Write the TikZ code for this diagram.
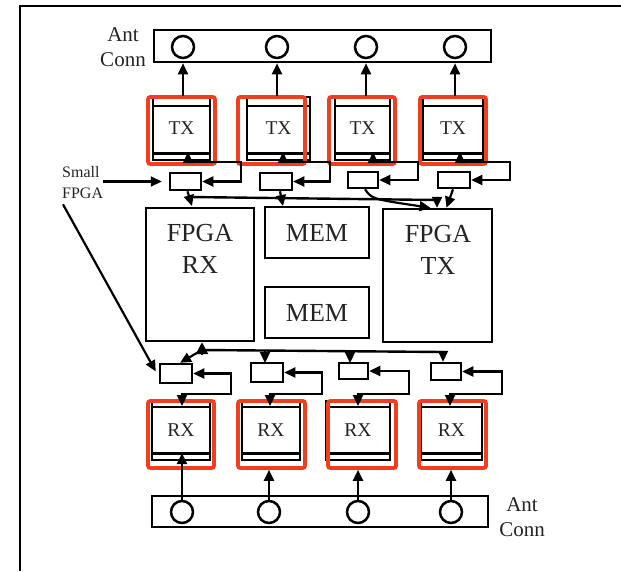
\documentclass[tikz,border=0pt]{standalone}
\usepackage{fontspec}
\setmainfont{Liberation Serif}
\usetikzlibrary{arrows.meta,calc}
\definecolor{modred}{RGB}{242,62,32}
\definecolor{txtgray}{RGB}{35,35,35}
\newcommand\antfont{\fontsize{21}{25}\selectfont}
\newcommand\modfont{\fontsize{19.5}{22}\selectfont}
\newcommand\bigfpgafont{\fontsize{26}{32}\selectfont}
\newcommand\smallfont{\fontsize{16}{21}\selectfont}
\begin{document}
\begin{tikzpicture}[x=1pt,y=-1pt,
  tip/.tip={Triangle[length=11pt,width=10pt]},
  arr/.style={-tip, line width=2.2pt},
  darr/.style={tip-tip, line width=2.2pt},
  bus/.style={line width=2.4pt},
  frame/.style={line width=2.5pt},
  blk/.style={draw, line width=2.2pt, inner sep=0pt, text=txtgray},
  big/.style={draw, line width=2.4pt, inner sep=0pt, text=txtgray},
  innerln/.style={line width=2.8pt},
  redbox/.style={draw=modred, line width=3.6pt, rounded corners=2pt, inner sep=0pt},
  sbox/.style={draw, line width=2.5pt, inner sep=0pt},
  antc/.style={draw, circle, line width=2.5pt, minimum size=22pt, inner sep=0pt},
  lab/.style={text=txtgray, inner sep=0pt, align=center}
]
\useasboundingbox (0,0) rectangle (621,571);
\draw[frame] (621,6) -- (20,6) -- (20,571);

% ---------- top antenna connector ----------
\node[blk, line width=2.6pt, minimum width=337pt, minimum height=32pt] (antT) at (322.5,46) {};
\node[antc] (c1) at (183,47) {};
\node[antc] (c2) at (277,47) {};
\node[antc] (c3) at (366,47) {};
\node[antc] (c4) at (455,47) {};
\node[lab, font=\antfont] (antTl) at (123,47.5) {Ant\\Conn};

% ---------- TX modules ----------
\node[blk, minimum width=57pt, minimum height=63pt, font=\modfont] (tx1) at (181.5,128.5) {TX};
\node[blk, minimum width=63pt, minimum height=63pt, font=\modfont] (tx2) at (278.5,128.5) {TX};
\node[blk, minimum width=55pt, minimum height=63pt, font=\modfont] (tx3) at (362.5,128.5) {TX};
\node[blk, minimum width=60pt, minimum height=63pt, font=\modfont] (tx4) at (453,128.5) {TX};
\foreach \n in {tx1,tx2,tx3,tx4}{
  \draw[innerln] ([yshift=-10pt]\n.north west) -- ([yshift=-10pt]\n.north east);
  \draw[innerln] ([yshift=8pt]\n.south west) -- ([yshift=8pt]\n.south east);
}
\node[redbox, minimum width=67pt, minimum height=67pt] (rt1) at (181.5,130.5) {};
\node[redbox, minimum width=67pt, minimum height=67pt] (rt2) at (271.5,130.5) {};
\node[redbox, minimum width=66pt, minimum height=67pt] (rt3) at (362,130.5) {};
\node[redbox, minimum width=66pt, minimum height=67pt] (rt4) at (453,130.5) {};

\foreach \i in {1,2,3,4}
  \draw[arr] (c\i |- tx\i.north) -- (c\i |- antT.south);

% ---------- small FPGAs (top row) ----------
\node[sbox, minimum width=31pt, minimum height=17pt] (s1) at (185.5,181.5) {};
\node[sbox, minimum width=32pt, minimum height=17pt] (s2) at (276,181.5) {};
\node[sbox, minimum width=30pt, minimum height=16pt] (s3) at (363,180) {};
\node[sbox, minimum width=32pt, minimum height=16pt] (s4) at (454,180) {};

\draw[darr] (s1.east) -- (241,181.5) -- (241,162) -- (188,162) -- (188,152);
\draw[darr] (s2.east) -- (330,181.5) -- (330,162) -- (283,162) -- (283,152);
\draw[darr] (s3.east) -- (418,180) -- (418,162) -- (373,162) -- (373,152);
\draw[darr] (s4.east) -- (510,180) -- (510,162) -- (460,162) -- (460,152);

% ---------- central blocks ----------
\node[big, minimum width=108pt, minimum height=133pt] (frx) at (200,274.5) {};
\node[lab, font=\bigfpgafont] (frxl) at (200,249) {FPGA\\RX};
\node[big, minimum width=104pt, minimum height=51pt, font=\bigfpgafont] (memT) at (317,232.5) {MEM};
\node[big, minimum width=104pt, minimum height=51pt, font=\bigfpgafont] (memB) at (317,312.5) {MEM};
\node[big, minimum width=109pt, minimum height=133pt] (ftx) at (437.5,275.5) {};
\node[lab, font=\bigfpgafont] (ftxl) at (438,249.5) {FPGA\\TX};

% ---------- top bus ----------
\coordinate (tb1) at (190,197);
\coordinate (tb2) at (437,200);
\draw[bus] (tb1) -- (tb2);
\draw[arr] ($(s1.south)+(2,0)$) -- (192,206);
\draw[arr] ($(s2.south)+(4,0)$) -- (283,206);
\draw[arr] ($(s3.south)+(2,0)$) .. controls (372,199) .. ($(ftx.north)+(-7,0)$);
\draw[arr] ($(s4.south)+(-1,0)$) -- ($(ftx.north)+(9,0)$);
\draw[arr] (tb2) -- (tb2 |- ftx.north);

% ---------- bottom small FPGAs ----------
\node[sbox, minimum width=32pt, minimum height=19pt] (b1) at (176,373.5) {};
\node[sbox, minimum width=32pt, minimum height=19pt] (b2) at (267,372.5) {};
\node[sbox, minimum width=29pt, minimum height=16pt] (b3) at (353.5,371) {};
\node[sbox, minimum width=30pt, minimum height=17pt] (b4) at (446,371.5) {};

% ---------- bottom bus ----------
\coordinate (bb1) at (202,350);
\coordinate (bb2) at (443,352);
\draw[bus] (bb1) -- (bb2);
\draw[-{Triangle[length=12pt,width=12pt]}, line width=2.6pt] ($(frx.south)+(2,12)$) -- ($(frx.south)+(2,0)$);
\draw[arr] (bb1) -- ($(b1.north)+(4,0)$);
\draw[arr] (265,351) -- (265,363);
\draw[arr] (350,351.5) -- (350,363);
\draw[arr] (bb2) -- (bb2 |- b4.north);

% ---------- RX modules ----------
\node[blk, minimum width=58pt, minimum height=59pt, font=\modfont] (rx1) at (181,430.5) {RX};
\node[blk, minimum width=58pt, minimum height=59pt, font=\modfont] (rx2) at (271,430.5) {RX};
\node[blk, minimum width=64pt, minimum height=59pt, font=\modfont] (rx3) at (358,430.5) {RX};
\node[blk, minimum width=61pt, minimum height=59pt, font=\modfont] (rx4) at (451.5,430.5) {RX};
\foreach \n in {rx1,rx2,rx3,rx4}{
  \draw[innerln] ([yshift=-7pt]\n.north west) -- ([yshift=-7pt]\n.north east);
  \draw[innerln] ([yshift=8pt]\n.south west) -- ([yshift=8pt]\n.south east);
}
\node[redbox, minimum width=66pt, minimum height=67pt] (rr1) at (181,434.5) {};
\node[redbox, minimum width=67pt, minimum height=67pt] (rr2) at (271.5,434.5) {};
\node[redbox, minimum width=68pt, minimum height=67pt] (rr3) at (362,434.5) {};
\node[redbox, minimum width=67pt, minimum height=67pt] (rr4) at (452.5,434.5) {};

\draw[darr] (b1.east) -- (231,373.5) -- (231,394) -- (182,394) -- (182,406);
\draw[darr] (b2.east) -- (322,372.5) -- (322,394) -- (270,394) -- (270,406);
\draw[darr] (b3.east) -- (409,371) -- (409,394) -- (358,394) -- (358,406);
\draw[darr] (b4.east) -- (502,371.5) -- (502,394) -- (450,394) -- (450,406);

% ---------- bottom antenna connector ----------
\node[blk, line width=2.6pt, minimum width=336pt, minimum height=31pt] (antB) at (320,511.5) {};
\node[antc] (c5) at (182,512) {};
\node[antc] (c6) at (269,512) {};
\node[antc] (c7) at (358,512) {};
\node[antc] (c8) at (451,512) {};
\node[lab, font=\antfont] (antBl) at (522,517) {Ant\\Conn};

\draw[arr] (c5.north) -- ($(c5 |- rx1.south)+(0,-8)$);
\draw[arr] (c6.north) -- (c6 |- rr2.south);
\draw[arr] (c7.north) -- (c7 |- rr3.south);
\draw[arr] (c8.north) -- (c8 |- rr4.south);

% ---------- Small FPGA label ----------
\node[lab, align=left, anchor=west, font=\smallfont] (sf) at (62,183) {Small\\FPGA};
\draw[arr] (sf.east |- s1.west) -- ($(s1.west)+(-7,0)$);
\draw[arr] ($(sf.south west)+(1,5)$) -- ($(b1.west)+(-3,-2)$);
\end{tikzpicture}
\end{document}
